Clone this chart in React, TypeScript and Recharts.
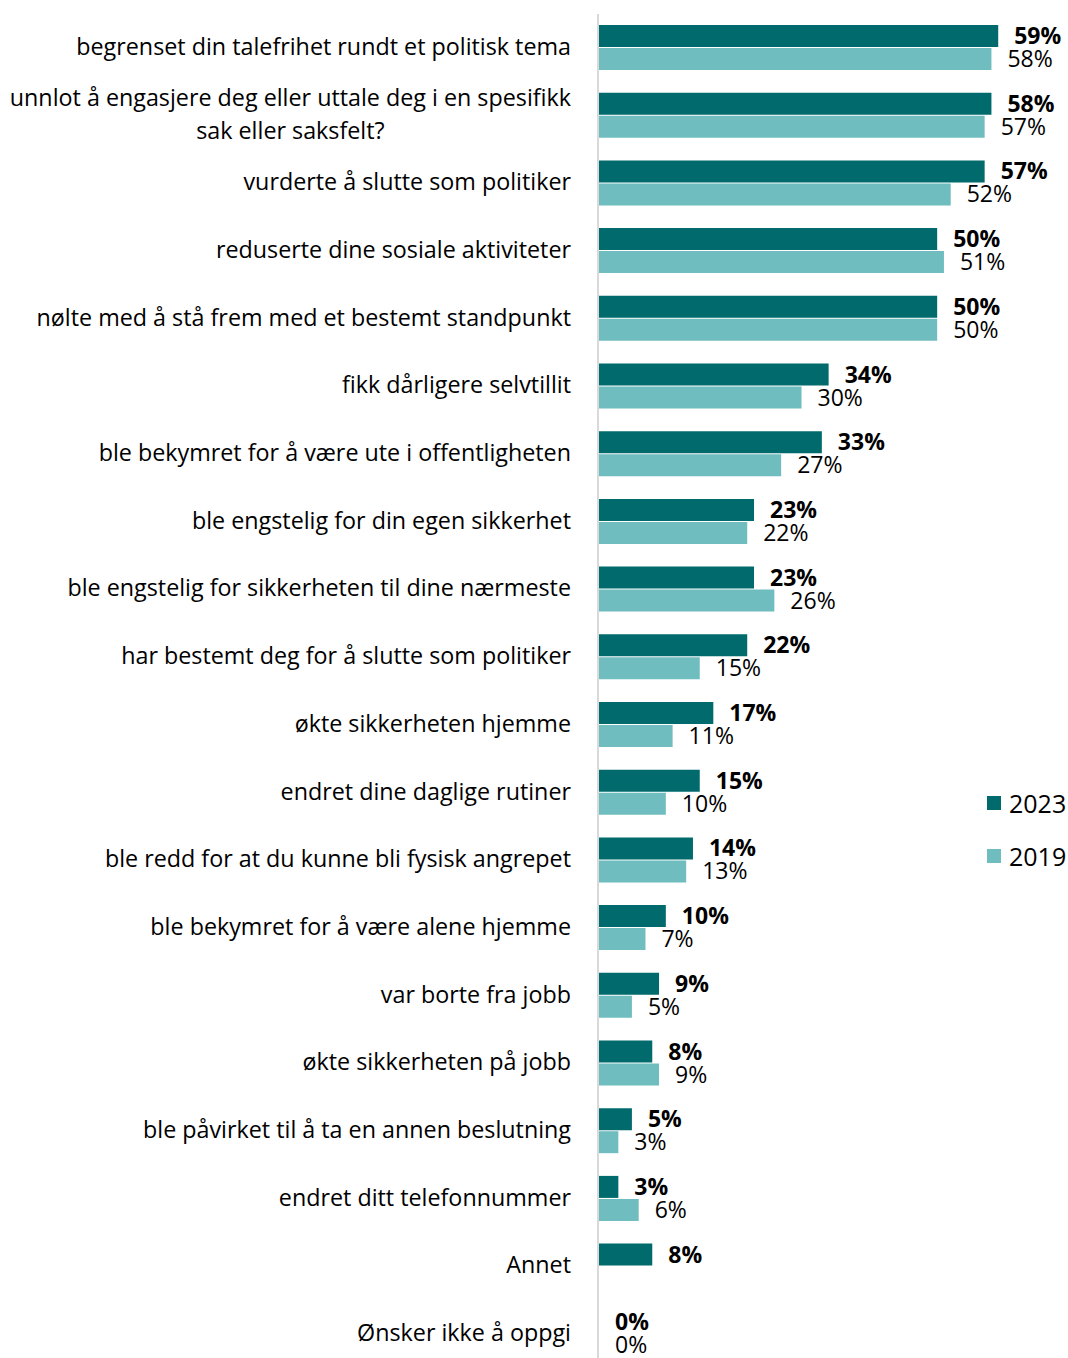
import React from 'react';
import { BarChart, Bar, XAxis, YAxis, LabelList, Legend } from 'recharts';

const categories: string[] = [
  'begrenset din talefrihet rundt et politisk tema',
  'unnlot å engasjere deg eller uttale deg i en spesifikk\nsak eller saksfelt?',
  'vurderte å slutte som politiker',
  'reduserte dine sosiale aktiviteter',
  'nølte med å stå frem med et bestemt standpunkt',
  'fikk dårligere selvtillit',
  'ble bekymret for å være ute i offentligheten',
  'ble engstelig for din egen sikkerhet',
  'ble engstelig for sikkerheten til dine nærmeste',
  'har bestemt deg for å slutte som politiker',
  'økte sikkerheten hjemme',
  'endret dine daglige rutiner',
  'ble redd for at du kunne bli fysisk angrepet',
  'ble bekymret for å være alene hjemme',
  'var borte fra jobb',
  'økte sikkerheten på jobb',
  'ble påvirket til å ta en annen beslutning',
  'endret ditt telefonnummer',
  'Annet',
  'Ønsker ikke å oppgi',
];

const values2023: (number | null)[] = [59, 58, 57, 50, 50, 34, 33, 23, 23, 22, 17, 15, 14, 10, 9, 8, 5, 3, 8, 0];
const values2019: (number | null)[] = [58, 57, 52, 51, 50, 30, 27, 22, 26, 15, 11, 10, 13, 7, 5, 9, 3, 6, null, 0];

const seriesNames = ['2023', '2019'];
const colors = ['#006a6c', '#70bdbf'];

const data = categories.map((c, i) => ({
  cat: c,
  v2023: values2023[i],
  v2019: values2019[i],
}));

const FONT = '"Open Sans", Lato, sans-serif';
const FS = 23.3;
const LFS = 23;

let measureCtx: CanvasRenderingContext2D | null = null;
function measure(t: string): number {
  if (!measureCtx) {
    const c = document.createElement('canvas');
    measureCtx = c.getContext('2d');
  }
  if (!measureCtx) return t.length * 10;
  measureCtx.font = `${FS}px ${FONT}`;
  return measureCtx.measureText(t).width;
}

const CategoryTick = (props: any) => {
  const { x, y, payload } = props;
  const lines: string[] = String(payload.value).split('\n');
  const endX = x - 19;
  const lh = 33;
  const yy = y - 2;
  const startY = yy - ((lines.length - 1) * lh) / 2;
  if (lines.length === 1) {
    return (
      <text x={endX} y={yy} textAnchor="end" dominantBaseline="central" fontSize={FS} fontFamily={FONT} fill="#000">
        {lines[0]}
      </text>
    );
  }
  const maxW = Math.max(...lines.map(measure));
  const cx = endX - maxW / 2;
  return (
    <text textAnchor="middle" fontSize={FS} fontFamily={FONT} fill="#000">
      {lines.map((l, i) => (
        <tspan key={i} x={cx} y={startY + i * lh} dominantBaseline="central">
          {l}
        </tspan>
      ))}
    </text>
  );
};

const makeLabel = (bold: boolean) => (props: any) => {
  const { x, y, width, height, value } = props;
  if (value === null || value === undefined) return null;
  return (
    <text
      x={x + width + 16}
      y={y + height / 2 - 1}
      dominantBaseline="central"
      textAnchor="start"
      fontSize={LFS}
      fontFamily={FONT}
      fontWeight={bold ? 'bold' : 'normal'}
      fill="#000"
    >
      {`${value}%`}
    </text>
  );
};

const LegendContent = () => (
  <div style={{ fontFamily: FONT, fontSize: 25 }}>
    {seriesNames.map((n, i) => (
      <div key={n} style={{ display: 'flex', alignItems: 'center', height: 53 }}>
        <span style={{ display: 'inline-block', width: 14, height: 14, background: colors[i], marginRight: 8 }} />
        <span>{n}</span>
      </div>
    ))}
  </div>
);

const zeroMin = (value: any) => (value === 0 ? 1 : 0);

export default function App() {
  return (
    <div style={{ position: 'absolute', left: 0, top: 0, width: 1068, height: 1358, overflow: 'hidden', background: '#fff' }}>
      <BarChart
        width={1068}
        height={1382}
        data={data}
        layout="vertical"
        margin={{ top: 14, right: 63, bottom: 14, left: 0 }}
        barCategoryGap={11}
        barGap={1}
      >
        <XAxis type="number" domain={[0, 60]} hide />
        <YAxis
          type="category"
          dataKey="cat"
          width={598}
          axisLine={{ stroke: '#d9d9d9', strokeWidth: 2 }}
          tickLine={false}
          tick={<CategoryTick />}
          interval={0}
        />
        <Legend
          layout="horizontal"
          verticalAlign="middle"
          align="center"
          content={<LegendContent />}
          wrapperStyle={{ position: 'absolute', left: 987, top: 776, width: 90 }}
        />
        <Bar dataKey="v2023" name={seriesNames[0]} fill={colors[0]} minPointSize={zeroMin} isAnimationActive={false}>
          <LabelList dataKey="v2023" content={makeLabel(true)} />
        </Bar>
        <Bar dataKey="v2019" name={seriesNames[1]} fill={colors[1]} minPointSize={zeroMin} isAnimationActive={false}>
          <LabelList dataKey="v2019" content={makeLabel(false)} />
        </Bar>
      </BarChart>
    </div>
  );
}
